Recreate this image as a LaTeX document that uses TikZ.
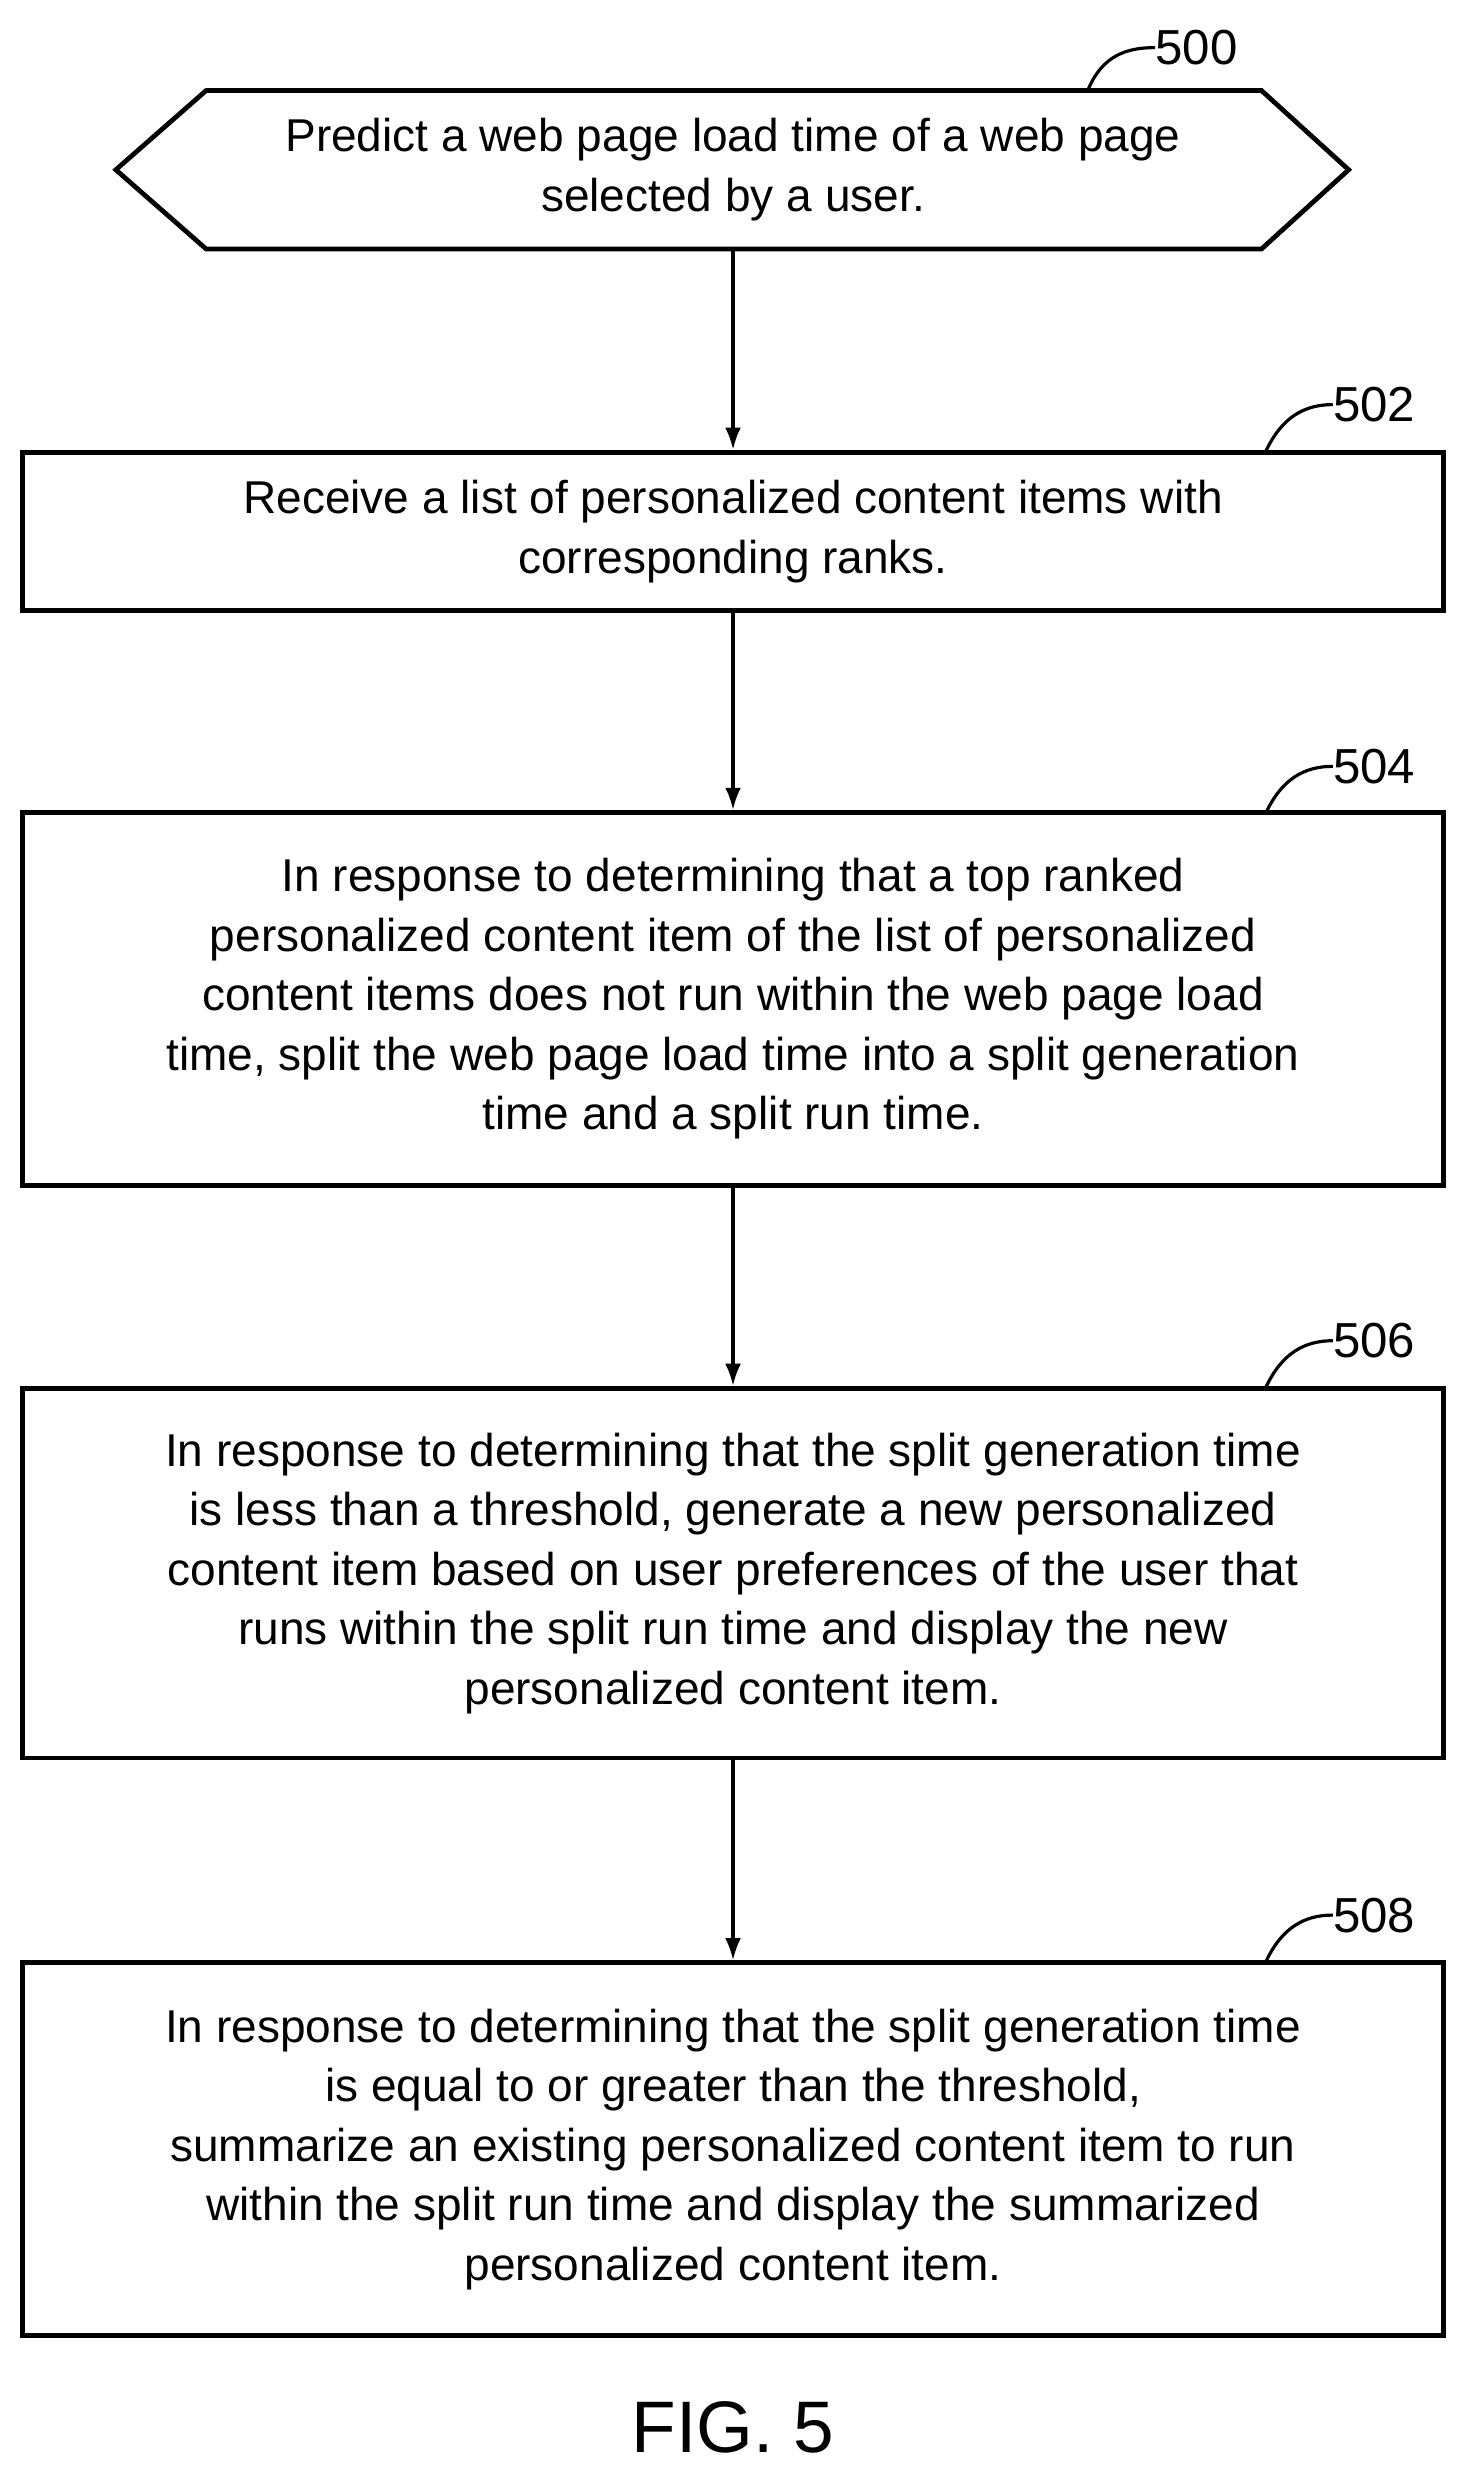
\documentclass[tikz,border=0pt]{standalone}
\usepackage{fontspec}
\setmainfont{Liberation Sans}
\begin{document}
\begin{tikzpicture}[x=1pt,y=-1pt,
  box/.style={draw,line width=3pt,align=center,font=\fontsize{29}{37.5}\selectfont,inner sep=0pt},
  arr/.style={line width=2pt,-{Latex[length=14pt,width=10pt]}},
  lbl/.style={font=\fontsize{31}{36}\selectfont,anchor=west,inner sep=0pt},
  lead/.style={line width=2pt}]
\usetikzlibrary{arrows.meta}
\useasboundingbox (0,0) rectangle (926,1570);
% hexagon
\draw[line width=3pt] (73,107) -- (130,57) -- (795,57) -- (850,107) -- (795,157) -- (130,157) -- cycle;
\node[box,draw=none] (n500) at (462,107) {Predict a web page load time of a web page\\selected by a user.};
\coordinate (t500) at (462,157);
\node[box,minimum width=896pt,minimum height=100pt] (n502) at (462,335) {Receive a list of personalized content items with\\corresponding ranks.};
\node[box,minimum width=896pt,minimum height=235pt] (n504) at (462,629.5) {In response to determining that a top ranked\\personalized content item of the list of personalized\\content items does not run within the web page load\\time, split the web page load time into a split generation\\time and a split run time.};
\node[box,minimum width=896pt,minimum height=233pt] (n506) at (462,991.5) {In response to determining that the split generation time\\is less than a threshold, generate a new personalized\\content item based on user preferences of the user that\\runs within the split run time and display the new\\personalized content item.};
\node[box,minimum width=896pt,minimum height=235pt] (n508) at (462,1354.5) {In response to determining that the split generation time\\is equal to or greater than the threshold,\\summarize an existing personalized content item to run\\within the split run time and display the summarized\\personalized content item.};
\draw[arr] (t500) -- (n502.north);
\draw[arr] (n502.south) -- (n504.north);
\draw[arr] (n504.south) -- (n506.north);
\draw[arr] (n506.south) -- (n508.north);
% labels
\node[lbl] (l500) at (728,30) {500};
\draw[lead] (686,56) .. controls (695,35) and (710,30) .. (l500.west);
\foreach \n/\y in {502/255,504/483,506/845,508/1207}{
  \node[lbl] (l\n) at (840,\y) {\n};
  \draw[lead] (798,\y+29) .. controls (808,\y+8) and (822,\y) .. (l\n.west);
}
\node[font=\fontsize{46}{50}\selectfont] (fig) at (462,1530) {FIG. 5};
\end{tikzpicture}
\end{document}
